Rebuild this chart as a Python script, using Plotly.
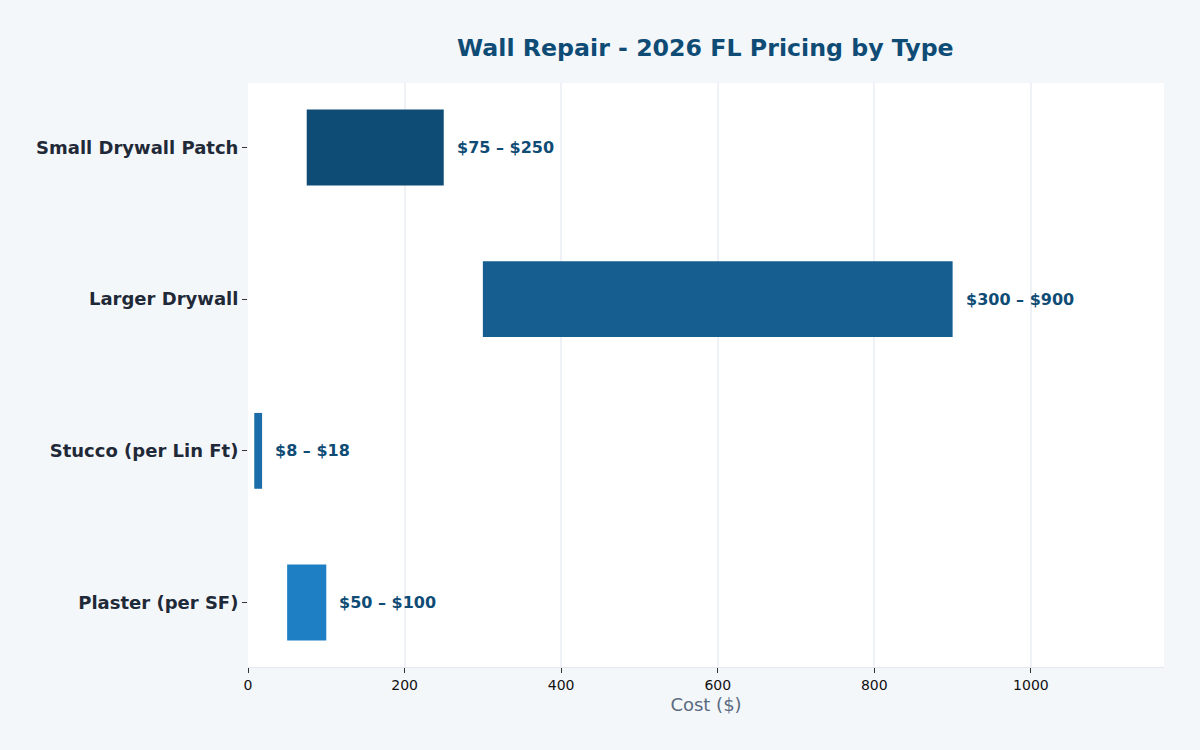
import plotly.graph_objects as go

categories = ["Small Drywall Patch", "Larger Drywall", "Stucco (per Lin Ft)", "Plaster (per SF)"]
low = [75, 300, 8, 50]
high = [250, 900, 18, 100]
labels = ["$75 – $250", "$300 – $900", "$8 – $18", "$50 – $100"]
colors = ["#0F4C75", "#155E8F", "#1B6CA8", "#1F7FC4"]

fig = go.Figure()
fig.add_trace(go.Bar(
    y=categories,
    x=[h - l for h, l in zip(high, low)],
    base=low,
    orientation="h",
    marker=dict(color=colors, line=dict(width=0)),
    width=0.5,
    hoverinfo="skip",
    showlegend=False,
))

for c, h, t in zip(categories, high, labels):
    fig.add_annotation(
        x=h, y=c, text=t, showarrow=False, xanchor="left", xshift=11,
        font=dict(family="DejaVu Sans", size=16, color="#0F4C75", weight="bold"),
    )

fig.update_layout(
    width=1200, height=750,
    paper_bgcolor="#F4F7FA",
    plot_bgcolor="#FFFFFF",
    margin=dict(l=248, r=36, t=83, b=83),
    title=dict(
        text="<b>Wall Repair - 2026 FL Pricing by Type</b>",
        x=0.5878, xanchor="center", y=0.937, yanchor="middle",
        font=dict(family="DejaVu Sans", size=23.7, color="#0F4C75"),
    ),
    font=dict(family="DejaVu Sans"),
)
fig.update_xaxes(
    range=[0, 1170],
    title=dict(text="Cost ($)", font=dict(size=18, color="#5A6B80"), standoff=6),
    tickfont=dict(size=14, color="#111111"),
    gridcolor="#EEF1F5", gridwidth=2,
    showline=True, linecolor="#E3E8EE", linewidth=1,
    ticks="outside", ticklen=5, tickcolor="#333333",
    zeroline=False,
    dtick=200,
)
fig.update_yaxes(
    range=[3.425, -0.425],
    tickfont=dict(size=18, color="#1F2937", weight="bold"),
    ticks="outside", ticklen=5, tickcolor="#333333",
    showgrid=False, showline=False, zeroline=False,
)

fig.write_html("out.html")
